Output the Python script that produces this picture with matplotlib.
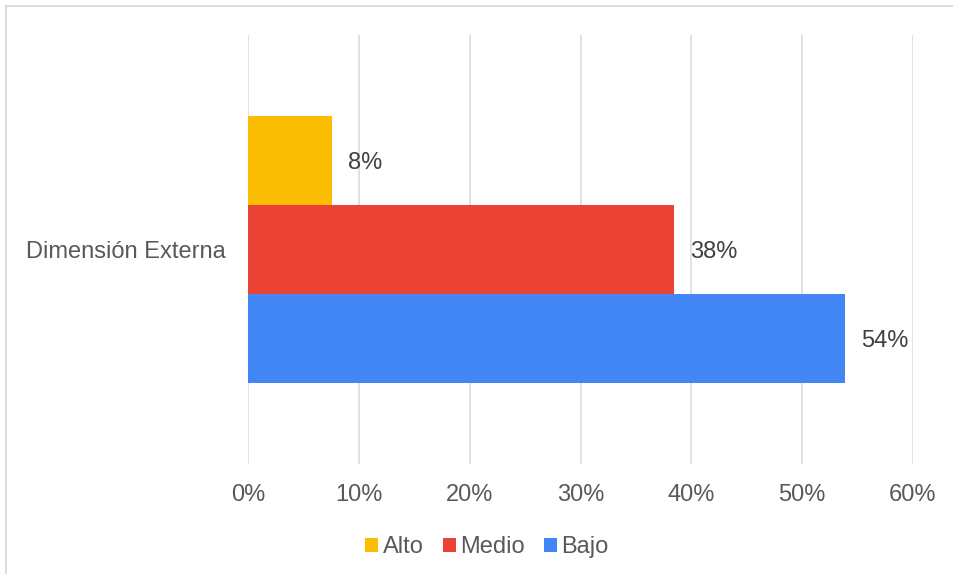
import matplotlib
matplotlib.use("Agg")
import matplotlib.pyplot as plt
from matplotlib.patches import Patch
from matplotlib.lines import Line2D

# Data
category = "Dimensión Externa"
levels = ["Alto", "Medio", "Bajo"]
percentages = [7.6, 38.45, 53.9]
colors = ["#FBBC04", "#EA4335", "#4285F4"]
x_ticks = [0, 10, 20, 30, 40, 50, 60]

plt.rcParams["font.family"] = ["Liberation Sans", "DejaVu Sans"]
W, H, DPI = 954, 574, 100
fig = plt.figure(figsize=(W / DPI, H / DPI), dpi=DPI)

# Plot area in pixel terms
left_px, right_px, top_px, bottom_px = 248, 913, 35, 464
ax = fig.add_axes([left_px / W, 1 - bottom_px / H,
                   (right_px - left_px) / W, (bottom_px - top_px) / H])

# Alto on top, Bajo at bottom
positions = [2, 1, 0]
bars = ax.barh(positions, percentages, height=1.0, color=colors, zorder=3)

for pos, val in zip(positions, percentages):
    ax.annotate(f"{val:.0f}%", xy=(val, pos), xytext=(11.5, -2),
                textcoords="offset points", va="center", ha="left",
                fontsize=17, color="#404040")

ax.set_xlim(0, 60)
ax.set_ylim(-1.41, 3.41)
ax.set_xticks(x_ticks)
ax.set_xticklabels([f"{t}%" for t in x_ticks])
ax.set_yticks([1])
ax.set_yticklabels([category])
ax.tick_params(axis="x", length=0, pad=14.5, labelsize=17, labelcolor="#595959")
ax.tick_params(axis="y", length=0, pad=16, labelsize=17, labelcolor="#595959")
ax.grid(axis="x", color="#d9d9d9", linewidth=1.1, zorder=0)
for s in ax.spines.values():
    s.set_visible(False)

handles = [Patch(facecolor=c, edgecolor="none", label=l) for c, l in zip(colors, levels)]
fig.legend(handles=handles, loc="center", bbox_to_anchor=(487 / W, 1 - 547 / H),
           ncol=3, frameon=False, fontsize=17, labelcolor="#595959",
           handlelength=0.55, handleheight=0.55, handletextpad=0.2,
           columnspacing=0.8, borderpad=0)

# Outer frame (top and left edges visible)
lc = "#d9d9d9"
fig.add_artist(Line2D([6.5 / W, 1], [1 - 5.5 / H, 1 - 5.5 / H],
                      transform=fig.transFigure, color=lc, linewidth=1.3))
fig.add_artist(Line2D([6.5 / W, 6.5 / W], [0, 1 - 5.5 / H],
                      transform=fig.transFigure, color=lc, linewidth=1.3))

fig.savefig("out.png", dpi=DPI, facecolor="white")
